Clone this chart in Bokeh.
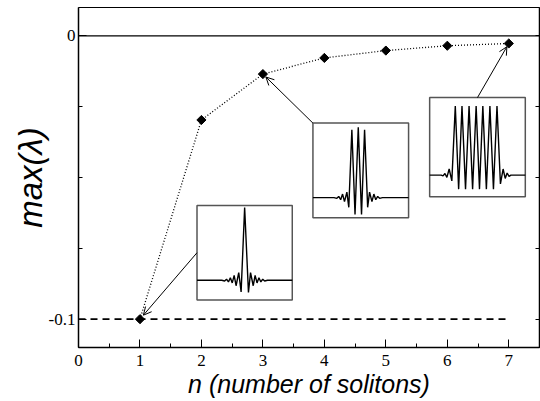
import numpy as np
from bokeh.plotting import figure
from bokeh.models import Range1d, FixedTicker, LinearAxis, Span, Arrow, OpenHead
from bokeh.embed import file_html
from bokeh.resources import INLINE

# ---- data ----
n_solitons = [1, 2, 3, 4, 5, 6, 7]
max_lambda = [-0.1, -0.0297, -0.0135, -0.0078, -0.0052, -0.0035, -0.0027]
x_ticks = [0, 1, 2, 3, 4, 5, 6, 7]
x_minor = [0.5, 1.5, 2.5, 3.5, 4.5, 5.5, 6.5, 7.5]
y_ticks = [-0.1, 0.0]
y_minor = [-0.1, -0.075, -0.05, -0.025, 0.0]
ref_level = -0.1

# inset soliton profiles, in inset-local units (0..1)
wave1_u = [0, .26, .29, .31, .33, .35, .37, .39, .41, .438, .463, .50, .54, .562, .59, .61, .63, .65, .67, .69, .71, .74, 1]
wave1_v = [.208, .208, .20, .22, .19, .235, .18, .26, .15, .29, .085, .98, .078, .29, .15, .26, .18, .235, .19, .22, .20, .208, .208]
wave2_u = [0, .22, .25, .27, .29, .31, .33, .355, .375, .407, .44, .474, .508, .54, .572, .592, .617, .637, .657, .677, .697, .727, 1]
wave2_v = [.212, .212, .205, .225, .19, .25, .17, .27, .11, .93, .035, .955, .035, .93, .11, .27, .17, .25, .19, .225, .205, .212, .212]
wave3_u = [0, .12, .14, .16, .18, .204, .232, .268, .303, .338, .375, .412, .449, .486, .521, .556, .593, .630, .667, .704, .74, .768, .79, .81, .83, .85, 1]
wave3_v = [.218, .218, .21, .235, .195, .28, .16, .916, .077, .916, .077, .916, .077, .916, .077, .916, .077, .916, .077, .916, .13, .28, .185, .24, .205, .218, .218]

# ---- layout (inset boxes: left, right, bottom, top in data units) ----
boxes = [(1.928, 3.478, -0.0932, -0.0599),
         (3.814, 5.370, -0.0642, -0.0308),
         (5.713, 7.269, -0.0568, -0.0218)]
waves = [(wave1_u, wave1_v), (wave2_u, wave2_v), (wave3_u, wave3_v)]
arrow_start_uv = [(0.0, 0.5), (0.0, 1.0), (0.5, 1.0)]
arrow_target = [0, 2, 6]

p = figure(width=540, height=401, x_range=Range1d(0, 7.5), y_range=Range1d(-0.11, 0.01),
           output_backend="svg", toolbar_location=None,
           min_border_left=78, min_border_right=1, min_border_top=7, min_border_bottom=54)
p.background_fill_color = "white"
p.border_fill_color = "white"
p.outline_line_color = "black"
p.outline_line_width = 1
p.grid.visible = False

tick_font = "Liberation Serif"
for ax in (p.xaxis[0], p.yaxis[0]):
    ax.major_tick_in = 8
    ax.major_tick_out = 0
    ax.minor_tick_in = 4
    ax.minor_tick_out = 0
    ax.axis_line_width = 1.5
    ax.major_tick_line_width = 1
    ax.minor_tick_line_width = 1
    ax.major_label_text_font = tick_font
    ax.major_label_text_font_size = "17px"
    ax.major_label_text_color = "black"
    ax.axis_label_text_font = "Liberation Sans"
    ax.axis_label_text_font_style = "italic"
    ax.axis_label_text_color = "black"

p.xaxis.ticker = FixedTicker(ticks=x_ticks, minor_ticks=x_minor)
p.yaxis.ticker = FixedTicker(ticks=y_ticks, minor_ticks=y_minor)
p.xaxis.axis_label = "n (number of solitons)"
p.xaxis.axis_label_text_font_size = "25px"
p.xaxis.major_label_standoff = 7
p.xaxis.axis_label_standoff = 1
p.yaxis.axis_label = "max(λ)"
p.yaxis.axis_label_text_font_size = "33px"
p.yaxis.major_label_standoff = 3
p.yaxis.axis_label_standoff = -3
p.yaxis.major_label_overrides = {0: "0", -0.1: "-0.1"}

# right-hand tick marks only (no labels)
right_ax = LinearAxis(ticker=FixedTicker(ticks=[], minor_ticks=y_minor),
                      major_tick_in=0, major_tick_out=0, minor_tick_in=4, minor_tick_out=0,
                      major_label_standoff=0, axis_line_width=1.5)
p.add_layout(right_ax, "right")

# reference lines
p.add_layout(Span(location=0, dimension="width", line_color="black", line_width=1.2))
p.line([p.x_range.start, n_solitons[-1]], [ref_level, ref_level],
       line_color="black", line_width=1.6, line_dash="7 5")

# data
p.line(n_solitons, max_lambda, line_color="black", line_width=1.3, line_dash="1 2")
p.scatter(n_solitons, max_lambda, marker="square", size=6.5, angle=np.pi / 4,
          fill_color="black", line_color="black")

# insets
for (l, r, b, t), (wu, wv) in zip(boxes, waves):
    p.quad(left=[l], right=[r], bottom=[b], top=[t], fill_color="white",
           line_color="#555555", line_width=1.5)
    xs = [l + u * (r - l) for u in wu]
    ys = [b + v * (t - b) for v in wv]
    p.line(xs, ys, line_color="black", line_width=1.4)

# arrows from insets to points
for (l, r, b, t), (su, sv), idx in zip(boxes, arrow_start_uv, arrow_target):
    xs0 = l + su * (r - l)
    ys0 = b + sv * (t - b)
    px, py = n_solitons[idx], max_lambda[idx]
    k = 0.06
    p.add_layout(Arrow(end=OpenHead(size=8, line_width=1, line_color="black"),
                       x_start=xs0, y_start=ys0,
                       x_end=px + k * (xs0 - px), y_end=py + k * (ys0 - py),
                       line_color="black", line_width=1))

open("out.html", "w").write(file_html(p, INLINE))
